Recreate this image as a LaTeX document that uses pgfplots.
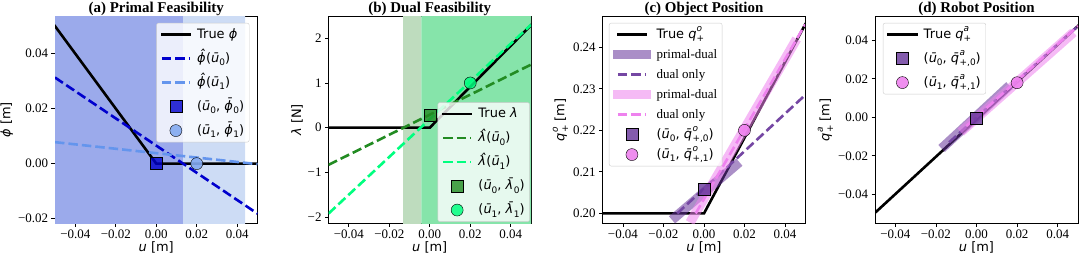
\documentclass[border=0pt]{standalone}
\usepackage{fontspec}
\setmainfont{Liberation Serif}
\newfontfamily\dv{DejaVu Sans}
\usepackage{pgfplots}
\pgfplotsset{compat=1.18}
\definecolor{dkblue}{HTML}{9BAAEB}
\definecolor{ltblue}{HTML}{CDDCF5}
\definecolor{mblue}{HTML}{0000CD}
\definecolor{cfblue}{HTML}{6495ED}
\definecolor{palegr}{HTML}{BEDCBE}
\definecolor{brgr}{HTML}{86E4AA}
\definecolor{fgreen}{HTML}{228B22}
\definecolor{sgreen}{HTML}{00FF7F}
\definecolor{rpurple}{HTML}{663399}
\definecolor{violet}{HTML}{EE82EE}
\newcommand{\tfont}{\fontsize{13}{15}\selectfont}
\newcommand{\lfont}{\dv\fontsize{13}{15}\selectfont}
\newcommand{\gfont}{\dv\fontsize{13}{15}\selectfont}
\newcommand{\hfont}{\bfseries\fontsize{15}{17}\selectfont}
\newcommand{\Sb}[1]{\raisebox{-0.28em}{\fontsize{9}{9}\selectfont #1}}
\newcommand{\SbSp}[2]{\rlap{\raisebox{0.5em}{\fontsize{9}{9}\selectfont\itshape #1}}\raisebox{-0.3em}{\fontsize{9}{9}\selectfont #2}}
\pgfplotsset{
  legend image code/.code={\draw[mark repeat=2, mark phase=2, #1] plot coordinates {(0bp,0bp) (14bp,0bp) (28bp,0bp)};},
  every tick label/.append style={font=\tfont},
  every axis label/.append style={font=\lfont},
  every axis title/.append style={font=\hfont},
  every axis legend/.append style={font=\gfont},
  myax/.style={
    scale only axis, width=202.5bp, height=206.5bp, anchor=south west,
    xmin=-0.05, xmax=0.05, scaled ticks=false,
    axis line style={black, line width=0.8bp},
    tick align=outside, xtick pos=bottom, ytick pos=left,
    major tick length=3.5bp, tick style={black, line width=0.8bp},
    xtick={-0.04,-0.02,0,0.02,0.04},
    xticklabels={−0.04,−0.02,0.00,0.02,0.04},
    xlabel={\textit{u} [m]},
    xlabel style={yshift=4bp},
    ylabel style={yshift=-2bp},
    title style={yshift=-9bp},
    legend style={draw=black!20, rounded corners=2bp,
      fill=white, fill opacity=0.8, text opacity=1, draw opacity=1,
      inner xsep=4bp, inner ysep=3bp, row sep=7bp, column sep=5bp,
      nodes={inner sep=1bp, text height=11bp, text depth=4bp}},
    legend cell align=left,
  },
  trueline/.style={black, line width=2.6bp, line cap=rect, line join=miter},
  dashln/.style={line width=2.6bp, dash pattern=on 9.5bp off 4bp},
  band/.style={line width=9.5bp, line cap=rect},
  sqm/.style={only marks, mark=square*, mark size=6bp, mark options={draw=black!70, line width=0.6bp}},
  cim/.style={only marks, mark=*, mark size=6bp, mark options={draw=black!70, line width=0.6bp}},
}
\begin{document}
\begin{tikzpicture}[x=1bp,y=1bp]
\useasboundingbox (0,0) rectangle (1079,259);
% (a)
\begin{axis}[myax, at={(55bp,36bp)}, ymin=-0.0216, ymax=0.0535,
  ytick={-0.02,0,0.02,0.04}, yticklabels={−0.02,0.00,0.02,0.04},
  ylabel={\textit{ϕ} [m]}, title={(a) Primal Feasibility},
  legend style={at={(rel axis cs:0.96,0.969)}, anchor=north east}]
\addplot[fill=ltblue, draw=none, forget plot] coordinates {(0.0131,-0.03) (0.0439,-0.03) (0.0439,0.06) (0.0131,0.06)} \closedcycle;
\addplot[fill=dkblue, draw=none, forget plot] coordinates {(-0.06,-0.03) (0.0131,-0.03) (0.0131,0.06) (-0.06,0.06)} \closedcycle;
\addplot[trueline] coordinates {(-0.05,0.05) (0,0) (0.05,0)};
\addlegendentry{True \textit{ϕ}}
\addplot[dashln, mblue] coordinates {(-0.05,0.0313) (0.05,-0.0182)};
\addlegendentry{\textit{ϕ̂}(\textit{ū}\Sb{0})}
\addplot[dashln, cfblue] coordinates {(-0.05,0.0078) (0.05,-0.0002)};
\addlegendentry{\textit{ϕ̂}(\textit{ū}\Sb{1})}
\addplot[sqm, mark options={fill=mblue, fill opacity=0.8}] coordinates {(0,0)};
\addlegendentry{(\textit{ū}\Sb{0}, \textit{ϕ̄}\Sb{0})}
\addplot[cim, mark options={fill=cfblue!80, fill opacity=0.9}] coordinates {(0.02,0)};
\addlegendentry{(\textit{ū}\Sb{1}, \textit{ϕ̄}\Sb{1})}
\end{axis}
% (b)
\begin{axis}[myax, at={(328.5bp,36bp)}, ymin=-2.13, ymax=2.485,
  ytick={-2,-1,0,1,2}, yticklabels={−2,−1,0,1,2},
  ylabel={\textit{λ} [N]}, title={(b) Dual Feasibility},
  legend style={at={(rel axis cs:0.994,0.006)}, anchor=south east}]
\addplot[fill=palegr, draw=none, forget plot] coordinates {(-0.0132,-3) (-0.0041,-3) (-0.0041,3) (-0.0132,3)} \closedcycle;
\addplot[fill=brgr, draw=none, forget plot] coordinates {(-0.0041,-3) (0.06,-3) (0.06,3) (-0.0041,3)} \closedcycle;
\addplot[trueline] coordinates {(-0.05,0) (0,0) (0.05,2.29)};
\addlegendentry{True \textit{λ}}
\addplot[dashln, fgreen] coordinates {(-0.05,-0.83) (0.05,1.41)};
\addlegendentry{\textit{λ̂}(\textit{ū}\Sb{0})}
\addplot[dashln, sgreen] coordinates {(-0.05,-1.92) (0.05,2.3)};
\addlegendentry{\textit{λ̂}(\textit{ū}\Sb{1})}
\addplot[sqm, mark options={fill=fgreen, fill opacity=0.8}] coordinates {(0,0.29)};
\addlegendentry{(\textit{ū}\Sb{0}, \textit{λ̄}\Sb{0})}
\addplot[cim, mark options={fill=sgreen, fill opacity=0.85}] coordinates {(0.02,1.0)};
\addlegendentry{(\textit{ū}\Sb{1}, \textit{λ̄}\Sb{1})}
\end{axis}
% (c)
\begin{axis}[myax, at={(602.7bp,36bp)}, ymin=0.1977, ymax=0.2474,
  ytick={0.20,0.21,0.22,0.23,0.24}, yticklabels={0.20,0.21,0.22,0.23,0.24},
  ylabel={\textit{q}\SbSp{o}{+} [m]}, title={(c) Object Position},
  legend style={at={(rel axis cs:0.031,0.969)}, anchor=north west, row sep=3bp}]
\addplot[trueline] coordinates {(-0.05,0.2) (0,0.2) (0.05,0.2455)};
\addlegendentry{True \textit{q}\SbSp{o}{+}}
\addplot[band, rpurple, opacity=0.55] coordinates {(-0.014,0.1992) (0.0157,0.2116)};
\addlegendentry{\rmfamily primal-dual}
\addplot[dashln, rpurple!90] coordinates {(-0.0132,0.2) (0.05,0.2285)};
\addlegendentry{\rmfamily dual only}
\addplot[band, violet, opacity=0.55] coordinates {(-0.0057,0.1988) (0.0446,0.241)};
\addlegendentry{\rmfamily primal-dual}
\addplot[dashln, violet] coordinates {(-0.0041,0.2) (0.05,0.2455)};
\addlegendentry{\rmfamily dual only}
\addplot[sqm, mark options={fill=rpurple, fill opacity=0.8}] coordinates {(0,0.2058)};
\addlegendentry{(\textit{ū}\Sb{0}, \textit{q̄}\SbSp{o}{+,0})}
\addplot[cim, mark options={fill=violet, fill opacity=0.9}] coordinates {(0.02,0.22)};
\addlegendentry{(\textit{ū}\Sb{1}, \textit{q̄}\SbSp{o}{+,1})}
\end{axis}
% (d)
\begin{axis}[myax, at={(875bp,36bp)}, width=203bp, ymin=-0.0549, ymax=0.0524,
  ytick={-0.04,-0.02,0,0.02,0.04}, yticklabels={−0.04,−0.02,0.00,0.02,0.04},
  ylabel={\textit{q}\SbSp{a}{+} [m]}, title={(d) Robot Position},
  legend style={at={(rel axis cs:0.039,0.969)}, anchor=north west}]
\addplot[trueline] coordinates {(-0.05,-0.0496) (0.05,0.0475)};
\addlegendentry{True \textit{q}\SbSp{a}{+}}
\addplot[band, rpurple, opacity=0.55, forget plot] coordinates {(-0.0155,-0.0145) (0.0145,0.0148)};
\addplot[dashln, rpurple!90, forget plot] coordinates {(-0.0135,-0.013) (0.05,0.0475)};
\addplot[band, violet, opacity=0.55, forget plot] coordinates {(-0.006,-0.006) (0.046,0.0425)};
\addplot[dashln, violet, forget plot] coordinates {(-0.005,-0.0045) (0.05,0.0475)};
\addplot[sqm, mark options={fill=rpurple, fill opacity=0.8}] coordinates {(0,-0.0005)};
\addlegendentry{(\textit{ū}\Sb{0}, \textit{q̄}\SbSp{a}{+,0})}
\addplot[cim, mark options={fill=violet, fill opacity=0.9}] coordinates {(0.02,0.018)};
\addlegendentry{(\textit{ū}\Sb{1}, \textit{q̄}\SbSp{a}{+,1})}
\end{axis}
\end{tikzpicture}
\end{document}
